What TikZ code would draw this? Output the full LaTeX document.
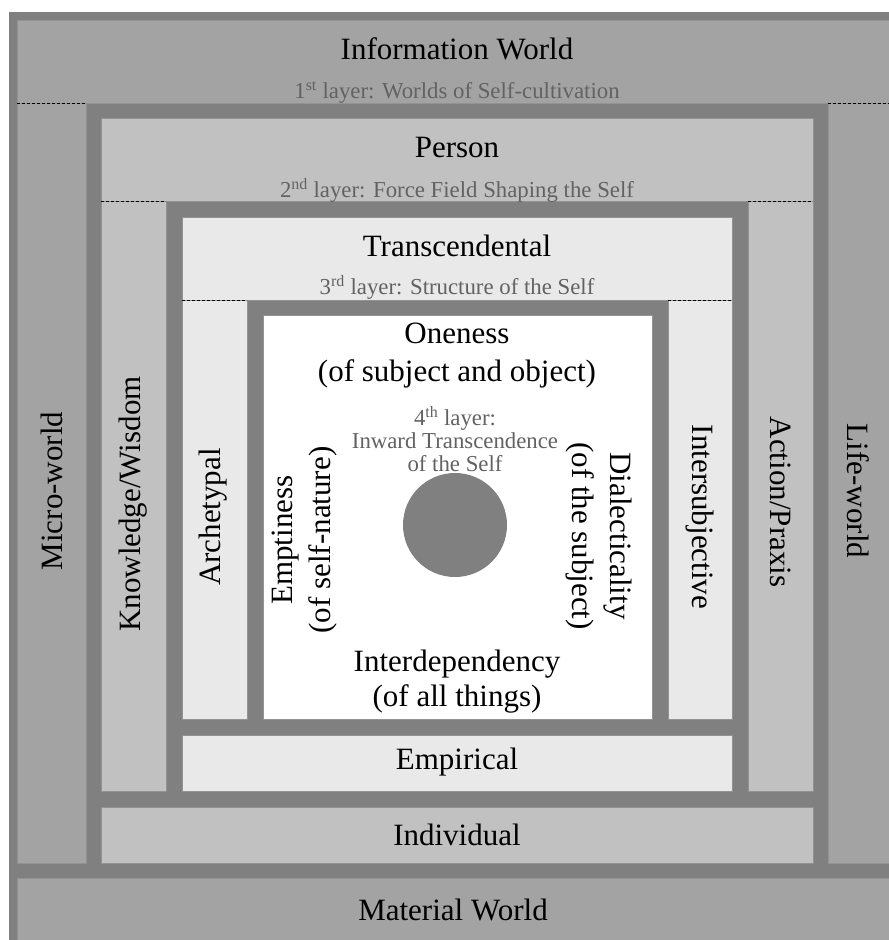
\documentclass[tikz,border=0pt]{standalone}
\usepackage{fontspec}
\setmainfont{Liberation Serif}
\definecolor{frame}{HTML}{808080}
\definecolor{lone}{HTML}{A3A3A3}
\definecolor{ltwo}{HTML}{C1C1C1}
\definecolor{lthree}{HTML}{E9E9E9}
\definecolor{subtxt}{HTML}{626262}
\begin{document}
\begin{tikzpicture}[x=1pt,y=-1pt,
  band/.style={draw=frame!85!white, line width=0.8pt},
  maintxt/.style={font=\fontsize{31}{38}\selectfont, text=black, inner sep=0pt, align=center},
  subt/.style={font=\fontsize{22.8}{23.5}\selectfont, text=subtxt, inner sep=0pt, align=center},
  sep/.style={dashed, black, line width=0.8pt, dash pattern=on 3pt off 2pt}]
\useasboundingbox (0,0) rectangle (889,940);
\fill[white] (0,0) rectangle (889,940);
\fill[frame] (9,12) rectangle (889,940);
% layer 1
\filldraw[band, fill=lone] (17,20) rectangle (889,103);
\filldraw[band, fill=lone] (17,103) rectangle (86,863);
\filldraw[band, fill=lone] (828,103) rectangle (889,863);
\filldraw[band, fill=lone] (17,878) rectangle (889,940);
% layer 2
\filldraw[band, fill=ltwo] (101,118) rectangle (813,201);
\filldraw[band, fill=ltwo] (101,201) rectangle (166,791);
\filldraw[band, fill=ltwo] (748,201) rectangle (813,791);
\filldraw[band, fill=ltwo] (101,807) rectangle (813,863);
% layer 3
\filldraw[band, fill=lthree] (182,217) rectangle (732,300);
\filldraw[band, fill=lthree] (182,300) rectangle (247,719);
\filldraw[band, fill=lthree] (668,300) rectangle (732,719);
\filldraw[band, fill=lthree] (182,735) rectangle (732,791);
% layer 4
\filldraw[band, fill=white] (263,315) rectangle (652,719);
\fill[frame] (455,525) circle (52);
% dashed separators
\coordinate (d1a) at (17,103); \coordinate (d1b) at (86,103);
\coordinate (d1c) at (828,103); \coordinate (d1d) at (889,103);
\coordinate (d2a) at (101,201); \coordinate (d2b) at (166,201);
\coordinate (d2c) at (748,201); \coordinate (d2d) at (813,201);
\coordinate (d3a) at (182,300); \coordinate (d3b) at (247,300);
\coordinate (d3c) at (668,300); \coordinate (d3d) at (732,300);
\draw[sep] (d1a) -- (d1b); \draw[sep] (d1c) -- (d1d);
\draw[sep] (d2a) -- (d2b); \draw[sep] (d2c) -- (d2d);
\draw[sep] (d3a) -- (d3b); \draw[sep] (d3c) -- (d3d);
% texts
\node[maintxt, anchor=base] (info) at (457,59) {Information World};
\node[subt, anchor=base] (sub1) at (457,98) {1\textsuperscript{st} layer: Worlds of Self-cultivation};
\node[maintxt, anchor=base] (person) at (457,157) {Person};
\node[subt, anchor=base] (sub2) at (457,197) {2\textsuperscript{nd} layer: Force Field Shaping the Self};
\node[maintxt, anchor=base] (trans) at (457,256) {Transcendental};
\node[subt, anchor=base] (sub3) at (457,294) {3\textsuperscript{rd} layer: Structure of the Self};
\node[maintxt, anchor=base] (one1) at (457,343) {Oneness};
\node[maintxt, anchor=base] (one2) at (457,381) {(of subject and object)};
\node[subt, anchor=base] (sub4a) at (455,425) {4\textsuperscript{th} layer:};
\node[subt, anchor=base] (sub4b) at (455,448) {Inward Transcendence};
\node[subt, anchor=base] (sub4c) at (455,471) {of the Self};
\node[maintxt, anchor=base] (inter1) at (457,671) {Interdependency};
\node[maintxt, anchor=base] (inter2) at (457,706) {(of all things)};
\node[maintxt] (emp) at (457,762) {Empirical};
\node[maintxt] (indiv) at (457,835) {Individual};
\node[maintxt] (mat) at (453,910) {Material World};
\node[maintxt, rotate=90] (micro) at (52,491) {Micro-world};
\node[maintxt, rotate=90] (know) at (133,504) {Knowledge/Wisdom};
\node[maintxt, rotate=90] (arch) at (213,517) {Archetypal};
\node[maintxt, rotate=90] (empt) at (305,540) {Emptiness\\(of self-nature)};
\node[maintxt, rotate=-90] (dial) at (599,536) {Dialecticality\\(of the subject)};
\node[maintxt, rotate=-90] (intsub) at (700,517) {Intersubjective};
\node[maintxt, rotate=-90] (act) at (781,502) {Action/Praxis};
\node[maintxt, rotate=-90] (life) at (858,491) {Life-world};
\end{tikzpicture}
\end{document}
